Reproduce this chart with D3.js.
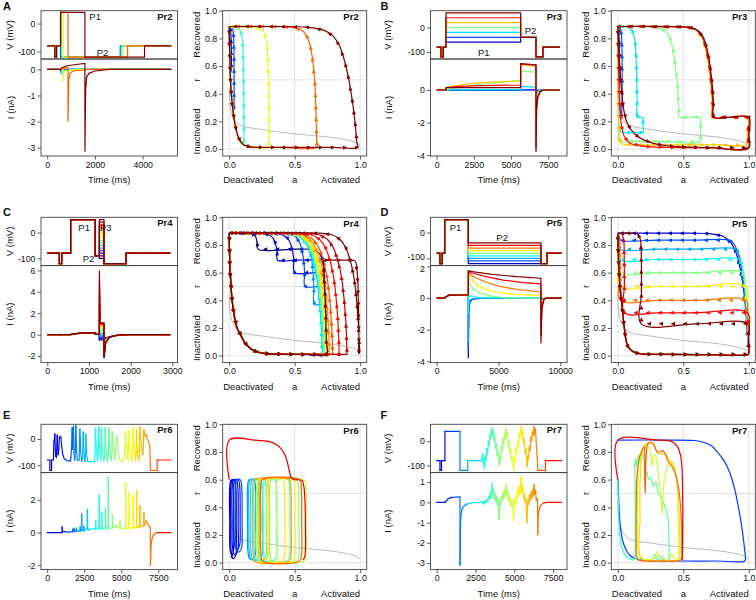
<!DOCTYPE html>
<html><head><meta charset="utf-8">
<script src="https://cdn.jsdelivr.net/npm/d3@7"></script>
<style>body{margin:0;background:#fff}</style></head>
<body><svg id="c" width="756" height="600"></svg>
<script>
// ================= DATA =================
// ---- Panel A (Pr2) ----
const A_tTicks=[0,2000,4000], A_vTicks=[0,-100], A_iTicks=[0,-1,-2,-3];
const A_p1Dur=[5,15,40,110,310,1020];
const A_color=[0.05,0.2,0.42,0.6,0.78,1.0];
const A_iTraces=[
 [[0,0],[560,0],[565,0.01],[566,-0.05],[620,-0.01],[900,0],[5200,0]],
 [[0,0],[560,0],[575,0.01],[576,-0.1],[640,-0.02],[1000,0],[5200,0]],
 [[0,0],[560,0],[600,0.02],[601,-0.2],[660,-0.04],[1100,0],[5200,0]],
 [[0,0],[560,0],[580,0.02],[670,0.04],[671,-0.45],[700,-0.12],[800,-0.05],[1300,0],[5200,0]],
 [[0,0],[560,0],[580,0.03],[700,0.05],[870,0.07],[871,-2.0],[900,-0.45],[950,-0.15],[1100,-0.06],[1800,0],[5200,0]],
 [[0,0],[560,0],[600,0.05],[700,0.1],[900,0.15],[1200,0.19],[1580,0.23],[1581,-3.15],[1610,-0.8],[1650,-0.3],[1750,-0.15],[2000,-0.06],[2600,0],[5200,0]]
];
const A_phase=[
 [[0,0.885],[0.002,0.75],[0.006,0.62],[0.012,0.55],[0.016,0.6],[0.015,0.75],[0.011,0.85],[0.005,0.883],[0,0.885]],
 [[0,0.885],[0.002,0.75],[0.006,0.6],[0.012,0.45],[0.022,0.33],[0.032,0.27],[0.036,0.3],[0.037,0.5],[0.036,0.7],[0.033,0.82],[0.025,0.872],[0.01,0.884],[0,0.885]],
 [[0,0.885],[0.002,0.75],[0.006,0.6],[0.012,0.45],[0.022,0.33],[0.035,0.23],[0.055,0.13],[0.08,0.065],[0.1,0.035],[0.11,0.025],[0.112,0.06],[0.111,0.3],[0.108,0.6],[0.1,0.79],[0.085,0.855],[0.05,0.88],[0,0.885]],
 [[0,0.885],[0.002,0.75],[0.006,0.6],[0.012,0.45],[0.022,0.33],[0.035,0.23],[0.055,0.13],[0.08,0.065],[0.11,0.032],[0.15,0.018],[0.2,0.013],[0.3,0.012],[0.305,0.05],[0.303,0.3],[0.298,0.55],[0.29,0.72],[0.275,0.82],[0.25,0.865],[0.2,0.88],[0.1,0.885],[0,0.885]],
 [[0,0.885],[0.002,0.75],[0.006,0.6],[0.012,0.45],[0.022,0.33],[0.035,0.23],[0.055,0.13],[0.08,0.065],[0.11,0.032],[0.15,0.018],[0.2,0.013],[0.4,0.012],[0.67,0.012],[0.668,0.05],[0.663,0.25],[0.655,0.45],[0.64,0.62],[0.62,0.74],[0.59,0.82],[0.55,0.86],[0.48,0.88],[0.3,0.885],[0,0.885]],
 [[0,0.886],[0.002,0.75],[0.006,0.6],[0.012,0.45],[0.022,0.33],[0.035,0.23],[0.055,0.13],[0.08,0.065],[0.11,0.032],[0.15,0.018],[0.2,0.013],[0.5,0.012],[0.8,0.012],[0.98,0.012],[0.975,0.05],[0.96,0.2],[0.94,0.35],[0.91,0.52],[0.88,0.64],[0.84,0.75],[0.79,0.82],[0.72,0.86],[0.6,0.88],[0.3,0.886],[0,0.886]]
];
// ---- Panel B (Pr3) ----
const B_tTicks=[0,2500,5000,7500], B_vTicks=[0,-100], B_iTicks=[0,-2,-4];
const B_p1Level=[-60,-40,-20,0,20,40,60];
const B_color=[0.08,0.2,0.35,0.5,0.68,0.86,1.0];
const B_iTraces=[
 [[0,0],[620,0],[700,-0.02],[5650,-0.03],[5651,0],[6680,0],[6681,-0.1],[6800,-0.02],[7100,0],[8300,0]],
 [[0,0],[620,0],[5650,-0.02],[5651,0.02],[6680,0.02],[6681,-0.2],[6800,-0.04],[7150,0],[8300,0]],
 [[0,0],[620,0],[1500,0.01],[5650,0.02],[5651,0.2],[6000,0.2],[6680,0.18],[6681,-0.5],[6750,-0.15],[6900,-0.05],[7150,0],[8300,0]],
 [[0,0],[620,0],[800,0.05],[1500,0.15],[3000,0.35],[5650,0.6],[5651,1.15],[6680,1.1],[6681,-2.5],[6720,-0.8],[6800,-0.3],[6950,-0.08],[7150,0],[8300,0]],
 [[0,0],[620,0],[660,0.15],[1500,0.3],[3000,0.45],[5650,0.55],[5651,1.55],[6680,1.45],[6681,-3.4],[6720,-1.0],[6800,-0.4],[6950,-0.1],[7150,0],[8300,0]],
 [[0,0],[620,0],[640,0.15],[1500,0.22],[3000,0.27],[5650,0.3],[5651,1.6],[6680,1.5],[6681,-3.6],[6720,-1.1],[6800,-0.42],[6950,-0.11],[7150,0],[8300,0]],
 [[0,0],[620,0],[640,0.14],[5650,0.15],[5651,1.62],[6680,1.55],[6681,-3.8],[6720,-1.2],[6800,-0.45],[6950,-0.12],[7150,0],[8300,0]]
];
const B_phase=[
 [[0,0.885],[0.002,0.75],[0.005,0.62],[0.008,0.52],[0.01,0.46],[0.011,0.55],[0.011,0.7],[0.009,0.82],[0.005,0.875],[0,0.885]],
 [[0,0.885],[0.003,0.7],[0.008,0.48],[0.014,0.34],[0.022,0.26],[0.028,0.235],[0.031,0.3],[0.033,0.5],[0.032,0.7],[0.028,0.82],[0.02,0.87],[0,0.885]],
 [[0,0.885],[0.002,0.6],[0.005,0.3],[0.01,0.17],[0.02,0.127],[0.05,0.12],[0.12,0.12],[0.19,0.12],[0.192,0.18],[0.19,0.23],[0.15,0.23],[0.147,0.35],[0.144,0.5],[0.14,0.65],[0.135,0.74],[0.125,0.81],[0.11,0.855],[0.08,0.878],[0.04,0.885],[0,0.886]],
 [[0,0.885],[0.002,0.6],[0.004,0.3],[0.008,0.13],[0.015,0.075],[0.03,0.057],[0.15,0.055],[0.35,0.055],[0.63,0.055],[0.632,0.12],[0.632,0.2],[0.63,0.23],[0.55,0.23],[0.47,0.23],[0.465,0.3],[0.46,0.4],[0.452,0.5],[0.44,0.6],[0.425,0.7],[0.405,0.78],[0.38,0.835],[0.34,0.868],[0.28,0.882],[0.15,0.886],[0,0.886]],
 [[0,0.885],[0.002,0.6],[0.004,0.3],[0.007,0.13],[0.015,0.055],[0.04,0.036],[0.2,0.03],[0.5,0.03],[0.8,0.03],[0.985,0.03],[0.99,0.1],[0.99,0.23],[0.85,0.23],[0.722,0.23],[0.72,0.32],[0.715,0.42],[0.705,0.52],[0.692,0.62],[0.672,0.72],[0.647,0.8],[0.612,0.85],[0.56,0.875],[0.45,0.884],[0,0.886]],
 [[0,0.885],[0.003,0.7],[0.008,0.5],[0.015,0.32],[0.03,0.16],[0.055,0.08],[0.1,0.04],[0.2,0.02],[0.4,0.012],[0.7,0.01],[0.995,0.01],[0.997,0.1],[0.995,0.23],[0.85,0.23],[0.728,0.23],[0.726,0.32],[0.72,0.42],[0.71,0.52],[0.697,0.62],[0.677,0.72],[0.652,0.8],[0.617,0.85],[0.56,0.876],[0.45,0.884],[0,0.886]],
 [[0,0.885],[0.004,0.8],[0.012,0.65],[0.022,0.5],[0.033,0.38],[0.046,0.28],[0.07,0.19],[0.1,0.14],[0.14,0.1],[0.2,0.065],[0.28,0.04],[0.38,0.024],[0.5,0.016],[0.71,0.01],[1.0,0.008],[1.002,0.1],[1.0,0.23],[0.85,0.23],[0.732,0.23],[0.73,0.32],[0.725,0.42],[0.715,0.52],[0.702,0.62],[0.682,0.72],[0.656,0.8],[0.62,0.85],[0.565,0.876],[0.45,0.884],[0,0.886]]
];
// ---- Panel C (Pr4) ----
const C_tTicks=[0,1000,2000,3000], C_vTicks=[0,-100], C_iTicks=[-2,0,2,4,6];
const C_p3Level=[-100,-90,-80,-70,-60,-50,-40,-30,-20,-10,0,10,20,30,40,50];
const C_iP3Peak=[-0.5,-0.45,-0.4,-0.3,-0.2,0.2,0.6,1.0,1.5,2.0,2.6,3.2,3.8,4.5,5.2,6.0];
const C_iP3End=[-0.5,-0.4,-0.3,-0.15,-0.05,0.1,0.25,0.4,0.55,0.7,0.8,0.9,0.95,1.0,1.05,1.1];
const C_iTailPeak=[-0.6,-0.7,-0.8,-0.9,-1.0,-1.1,-1.3,-1.5,-1.6,-1.7,-1.8,-1.9,-2.0,-2.1,-2.15,-2.2];
const C_iTail2=[-0.3,-0.35,-0.4,-0.42,-0.45,-0.48,-0.5,-0.55,-0.6,-0.62,-0.65,-0.68,-0.7,-0.72,-0.74,-0.76];
const C_inact=[[0,0.885],[0.002,0.75],[0.005,0.62],[0.01,0.56],[0.02,0.42],[0.036,0.3],[0.06,0.2],[0.087,0.15],[0.13,0.08],[0.19,0.035],[0.28,0.015],[0.45,0.01],[0.6,0.009],[0.745,0.009]];
const C_blueTail=[
 [[0.742,0.1],[0.738,0.25],[0.733,0.4],[0.728,0.52],[0.722,0.62],[0.712,0.7],[0.68,0.745],[0.62,0.768],[0.5,0.77],[0.22,0.77],[0.212,0.82],[0.2,0.862],[0.17,0.88],[0.1,0.885],[0,0.886]],
 [[0.742,0.1],[0.738,0.25],[0.733,0.4],[0.728,0.52],[0.722,0.62],[0.712,0.68],[0.69,0.69],[0.5,0.69],[0.37,0.69],[0.364,0.76],[0.35,0.82],[0.325,0.86],[0.28,0.88],[0.15,0.885],[0,0.886]],
 [[0.742,0.1],[0.738,0.25],[0.733,0.4],[0.726,0.52],[0.712,0.585],[0.69,0.6],[0.5,0.6],[0.493,0.7],[0.475,0.79],[0.445,0.85],[0.39,0.878],[0.3,0.885],[0,0.886]],
 [[0.742,0.1],[0.738,0.25],[0.732,0.4],[0.72,0.48],[0.7,0.5],[0.58,0.5],[0.576,0.6],[0.565,0.71],[0.545,0.8],[0.51,0.858],[0.45,0.88],[0.35,0.886],[0,0.886]],
 [[0.742,0.1],[0.738,0.25],[0.728,0.35],[0.71,0.37],[0.65,0.37],[0.647,0.48],[0.64,0.6],[0.628,0.71],[0.605,0.8],[0.565,0.856],[0.5,0.88],[0.4,0.886],[0,0.886]]
];
const C_fanBottom=[0.71,0.72,0.725,0.73,0.74,0.75,0.765,0.79,0.84,0.9];
const C_fanShape=[[0,0.009],[-0.003,0.1],[-0.01,0.25],[-0.022,0.4],[-0.04,0.55],[-0.068,0.68],[-0.105,0.78],[-0.155,0.845],[-0.22,0.876],[-0.31,0.885]];
const C_darkTail=[[0.742,0.1],[0.738,0.25],[0.733,0.4],[0.728,0.52],[0.722,0.62],[0.725,0.69],[0.8,0.69],[0.9,0.69],[0.96,0.685],[0.978,0.6],[0.986,0.4],[0.99,0.15],[0.99,0.02],[0.995,0.02],[0.992,0.1],[0.985,0.25],[0.973,0.4],[0.955,0.55],[0.927,0.68],[0.89,0.78],[0.84,0.845],[0.775,0.876],[0.685,0.885],[0,0.886]];
// ---- Panel D (Pr5) ----
const D_tTicks=[0,5000,10000], D_vTicks=[0,-100], D_iTicks=[-4,-2,0,2];
const D_p2Level=[-120,-110,-100,-90,-80,-70,-60,-50,-40];
const D_color=[0.08,0.2,0.29,0.38,0.5,0.64,0.76,0.88,1.0];
const D_iP2=[
 [[2561,-3.8],[2600,-0.8],[2700,-0.2],[3000,-0.05],[4000,0],[8440,0]],
 [[2561,-3.3],[2600,-0.6],[2700,-0.15],[3000,-0.03],[4000,0],[8440,0]],
 [[2561,-2.8],[2600,-0.4],[2700,-0.1],[3200,0],[8440,0]],
 [[2561,-1.0],[2600,0.1],[2700,0.15],[3500,0.02],[8440,0]],
 [[2561,1.1],[2700,0.85],[3000,0.55],[3500,0.3],[4500,0.1],[5500,0.02],[8440,0]],
 [[2561,1.55],[2800,1.2],[3300,0.8],[4000,0.55],[5000,0.35],[6500,0.22],[8440,0.17]],
 [[2561,1.6],[3000,1.35],[4000,1.0],[5000,0.75],[6500,0.55],[8440,0.38]],
 [[2561,1.65],[3000,1.55],[4000,1.35],[5500,1.12],[7000,0.98],[8440,0.9]],
 [[2561,1.72],[3000,1.65],[4500,1.5],[6500,1.35],[8440,1.25]]
];
const D_iTailPeak=[-0.1,-0.15,-0.25,-0.5,-0.8,-1.2,-1.7,-2.4,-2.85];
const D_iTail2=[-0.02,-0.03,-0.06,-0.12,-0.2,-0.3,-0.42,-0.55,-0.65];
const D_inact=[[0,0.885],[0.003,0.75],[0.007,0.65],[0.01,0.59],[0.018,0.48],[0.027,0.4],[0.035,0.33],[0.045,0.24],[0.059,0.13],[0.075,0.07],[0.097,0.043],[0.14,0.02],[0.22,0.011],[0.4,0.009],[0.7,0.008],[0.995,0.008]];
const D_levelPaths=[
 [[1.0,0.02],[0.99,0.15],[0.975,0.35],[0.955,0.52],[0.93,0.65],[0.9,0.75],[0.86,0.82],[0.8,0.865],[0.7,0.882],[0.55,0.885],[0.3,0.885],[0,0.885]],
 [[1.0,0.02],[0.992,0.15],[0.978,0.35],[0.96,0.52],[0.94,0.65],[0.915,0.75],[0.885,0.81],[0.85,0.835],[0.6,0.835],[0.3,0.835],[0.02,0.835],[0.01,0.86],[0,0.885]],
 [[1.0,0.02],[0.993,0.15],[0.98,0.35],[0.965,0.52],[0.945,0.65],[0.925,0.73],[0.9,0.77],[0.6,0.77],[0.3,0.77],[0.015,0.77],[0.008,0.83],[0,0.885]],
 [[1.0,0.02],[0.994,0.15],[0.982,0.35],[0.968,0.52],[0.952,0.63],[0.93,0.695],[0.6,0.695],[0.3,0.695],[0.015,0.695],[0.01,0.8],[0,0.885]],
 [[1.0,0.02],[0.995,0.15],[0.985,0.35],[0.972,0.52],[0.955,0.6],[0.6,0.6],[0.3,0.6],[0.015,0.6],[0.01,0.75],[0,0.885]],
 [[1.0,0.02],[0.996,0.15],[0.988,0.35],[0.975,0.5],[0.6,0.5],[0.3,0.5],[0.015,0.5],[0.012,0.7],[0.005,0.85],[0,0.885]],
 [[1.0,0.02],[0.997,0.15],[0.99,0.3],[0.98,0.4],[0.6,0.4],[0.3,0.4],[0.02,0.4],[0.018,0.6],[0.012,0.8],[0,0.885]],
 [[1.0,0.02],[0.998,0.15],[0.99,0.31],[0.6,0.31],[0.3,0.31],[0.05,0.31],[0.05,0.5],[0.049,0.7],[0.045,0.83],[0.03,0.88],[0,0.885]],
 [[1.0,0.02],[0.998,0.12],[0.993,0.23],[0.6,0.23],[0.18,0.23],[0.18,0.45],[0.179,0.7],[0.172,0.84],[0.15,0.882],[0.1,0.885],[0,0.885]]
];
// ---- Panel E (Pr6) ----
const E_tTicks=[0,2500,5000,7500], E_vTicks=[0,-100], E_iTicks=[-2,0,2];
const E_vPts=[[0,-80],[180,-80],[182,-120],[292,-120],[294,-80],[420,-80],
 [450,-10],[480,-5],[518,20],[545,-40],[580,-65],[620,-70],[660,-20],[675,15],[700,-30],[740,-60],[780,-40],[820,5],[870,10],[922,8],[980,-30],[1060,-62],[1150,-75],[1300,-82],[1560,-84],
 [1600,-70],[1650,-30],[1687,43],[1720,-40],[1750,-20],[1777,49],[1810,-50],[1860,-80],[1900,-40],[1935,52],[1980,-40],[2040,-82],[2160,-80],[2205,39],[2260,-50],[2330,-85],[2400,-70],[2430,27],[2480,-50],[2550,-85],[2590,-60],[2610,20],[2660,-60],[2740,-86],[3180,-86],
 [3230,-60],[3263,43],[3320,-40],[3400,-84],[3450,-60],[3488,46],[3540,-40],[3610,-82],[3640,-60],[3668,43],[3720,-40],[3820,-85],[3880,-60],[3915,43],[3970,-40],[4080,-84],[4130,-60],[4163,43],[4220,-40],[4320,-82],[4360,-60],[4388,30],[4450,-30],[4560,-80],[4620,-40],[4680,10],[4720,5],[4800,-50],[4900,-80],[5100,-86],
 [5230,-70],[5288,30],[5340,-20],[5450,-82],[5480,-60],[5513,32],[5570,-30],[5720,-84],[5760,-60],[5805,43],[5860,-30],[5980,-82],[6000,-60],[6030,36],[6090,-40],[6180,-82],
 [6220,-60],[6255,47],[6300,10],[6380,-40],[6460,-60],[6500,-20],[6525,36],[6580,15],[6650,10],[6700,17],[6760,0],[6850,-10],[6930,-30],[6950,-75],[6975,-120],
 [7425,-120],[7427,-80],[8380,-80]];
const E_iPts=[[0,0],[1000,0],[1010,0.35],[1030,0.05],[1200,0.05],[1500,0.02],[1700,0.05],[1720,0.2],[1740,0.05],[1790,0.1],[1810,0.25],[1830,0.05],[1950,0.1],[1980,0.27],[2000,0.08],[2200,0.1],[2225,0.35],[2250,0.1],[2318,0.15],[2330,1.14],[2350,0.15],[2450,0.1],[2480,0.4],[2500,0.15],[2700,0.2],[2712,1.41],[2730,0.25],[2800,0.15],[2900,0.2],[3050,0.25],[3263,0.2],[3275,0.73],[3290,0.25],[3400,0.2],[3500,0.3],[3510,2.3],[3530,0.3],[3600,0.2],[3680,0.3],[3690,1.24],[3710,0.3],[3800,0.2],[3920,0.3],[3930,1.5],[3950,0.3],[4050,0.2],[4110,0.3],[4120,3.39],[4140,0.3],[4250,0.25],[4390,0.3],[4400,1.1],[4420,0.3],[4550,0.35],[4700,0.45],[4800,0.3],[4905,0.3],[4915,0.7],[4930,0.3],[5100,0.2],[5290,0.3],[5300,3.08],[5320,0.3],[5450,0.25],[5510,0.3],[5520,2.47],[5540,0.3],[5700,0.25],[5800,0.3],[5810,2.27],[5830,0.3],[5950,0.3],[6030,0.35],[6040,2.57],[6060,0.35],[6150,0.3],[6250,0.35],[6260,1.65],[6280,0.35],[6400,0.4],[6520,0.4],[6530,1.2],[6550,0.45],[6650,0.6],[6710,0.75],[6780,0.5],[6900,0.4],[6960,0.3],[6975,-2.0],[7000,-1.0],[7050,-0.5],[7150,-0.2],[7300,-0.05],[7450,0],[8380,0]];
const E_loopL=[0.004,0.012,0.022,0.035,0.048,0.14,0.15,0.165,0.19,0.22,0.26,0.31,0.36,0.29,0.21,0.23,0.18,0.24];
const E_loopR=[0.03,0.05,0.065,0.08,0.095,0.2,0.225,0.25,0.28,0.36,0.46,0.53,0.585,0.5,0.42,0.3,0.47,0.55];
const E_loopBot=[0.04,0.03,0.06,0.1,0.08,0.03,0.025,0.02,0.02,0.02,0.015,0.012,0.01,0.012,0.012,0.03,0.01,0.01];
const E_loopCol=[0.05,0.09,0.13,0.16,0.2,0.27,0.31,0.34,0.38,0.42,0.47,0.52,0.56,0.6,0.64,0.68,0.72,0.78];
const E_red=[[0.565,0.02],[0.578,0.05],[0.582,0.25],[0.578,0.45],[0.57,0.55],[0.555,0.595],[0.5,0.6],[0.475,0.61],[0.46,0.66],[0.44,0.74],[0.42,0.79],[0.39,0.83],[0.35,0.86],[0.3,0.877],[0.2,0.885],[0,0.886],[0,0.6]];
// ---- Panel F (Pr7) ----
const F_tTicks=[0,2500,5000,7500], F_vTicks=[0,-100], F_iTicks=[-3,-2,-1,0,1];
const F_vPts=[[0,-80],[210,-80],[210,-120],[310,-120],[310,-80],[530,-80],[530,40],[1500,40],[1500,-120],[2000,-120],[2000,-80],[2900,-80],
 [2960,-50],[3000,-95],[3050,-70],[3080,-112],[3130,-60],[3180,-80],[3230,-30],[3280,-55],[3330,0],[3380,-20],[3430,30],[3480,10],[3553,57],[3600,20],[3650,45],[3700,0],[3750,20],[3800,-30],[3850,-10],[3900,-60],[3950,-40],[4028,-100],[4080,-60],[4130,-75],[4180,-20],[4230,-40],[4280,10],[4330,-10],[4380,30],[4420,15],[4460,53],[4510,20],[4560,35],[4610,-20],[4660,0],[4710,-50],[4760,-30],[4820,-80],[4880,-60],[4957,-119],[5010,-70],[5060,-85],[5110,-30],[5160,-50],[5210,0],[5260,-20],[5310,30],[5360,10],[5410,40],[5454,61],[5500,25],[5550,40],[5600,-10],[5650,10],[5700,-50],[5750,-30],[5821,-105],[5870,-60],[5920,-75],[5970,-20],[6020,-40],[6070,20],[6120,0],[6170,40],[6220,20],[6275,61],[6320,30],[6370,50],[6420,-10],[6470,-60],[6500,-80],
 [6510,-120],[7010,-120],[7010,-80],[8050,-80]];
const F_iPts=[[0,0],[530,0],[600,0.05],[700,0.15],[850,0.22],[1000,0.25],[1500,0.27],[1503,-3.1],[1530,-1.2],[1570,-0.55],[1650,-0.3],[1800,-0.15],[2000,-0.07],[2300,-0.02],[2900,0],
 [2950,0.02],[3000,-0.05],[3050,0.05],[3080,-0.1],[3130,0.1],[3200,0.0],[3250,0.15],[3300,0.05],[3350,0.3],[3400,0.15],[3450,0.5],[3500,0.2],[3553,0.95],[3600,0.4],[3650,0.7],[3700,0.2],[3750,0.45],[3800,0.1],[3850,0.3],[3900,-0.1],[3950,0.2],[4028,-0.85],[4080,0.1],[4130,-0.1],[4180,0.3],[4230,0.1],[4280,0.5],[4330,0.2],[4380,0.6],[4420,0.3],[4460,0.88],[4510,0.4],[4560,0.6],[4610,0.1],[4660,0.35],[4710,-0.1],[4760,0.2],[4820,-0.2],[4880,0.1],[4957,-0.9],[5010,0.1],[5060,-0.1],[5110,0.35],[5160,0.1],[5210,0.6],[5260,0.3],[5310,0.8],[5360,0.4],[5410,0.9],[5454,1.25],[5500,0.5],[5550,0.75],[5600,0.2],[5650,0.45],[5700,0.0],[5750,0.2],[5821,-1.0],[5870,0.1],[5920,-0.1],[5970,0.35],[6020,0.1],[6070,0.5],[6120,0.2],[6170,0.6],[6220,0.3],[6275,0.9],[6320,0.4],[6370,0.6],[6420,0.1],[6470,0.2],[6500,0.05],[6512,-1.6],[6540,-0.7],[6600,-0.35],[6700,-0.15],[6850,-0.05],[7000,-0.01],[7100,0],[8050,0]];
const F_phase=[
 {c:0.18,p:[[0.002,0.6],[0.005,0.5],[0.009,0.4],[0.013,0.33],[0.022,0.24],[0.033,0.174],[0.05,0.12],[0.072,0.077],[0.095,0.05],[0.123,0.034],[0.16,0.022],[0.2,0.017],[0.3,0.013],[0.5,0.012],[0.75,0.012],[0.97,0.012],[0.975,0.03],[0.968,0.1],[0.955,0.2],[0.94,0.3],[0.915,0.43],[0.89,0.54],[0.855,0.65],[0.815,0.73],[0.76,0.8],[0.71,0.848],[0.64,0.874],[0.58,0.883],[0.4,0.886],[0,0.886]]},
 {c:0.42,p:[[0,0.62],[0.002,0.5],[0.005,0.4],[0.008,0.3],[0.015,0.2],[0.027,0.12],[0.045,0.07],[0.07,0.04],[0.1,0.025],[0.12,0.02],[0.13,0.03]]},
 {c:0.47,p:[[0.13,0.03],[0.132,0.1],[0.133,0.3],[0.132,0.55],[0.13,0.72],[0.135,0.75],[0.142,0.7],[0.15,0.74],[0.16,0.78],[0.17,0.73],[0.18,0.77],[0.19,0.8],[0.2,0.74],[0.21,0.62],[0.22,0.66],[0.235,0.6],[0.25,0.62],[0.27,0.55],[0.29,0.58],[0.31,0.5],[0.33,0.48],[0.35,0.43],[0.37,0.38],[0.385,0.3],[0.39,0.15],[0.392,0.05],[0.385,0.02],[0.36,0.02],[0.33,0.05],[0.31,0.02],[0.28,0.06],[0.26,0.02],[0.22,0.02],[0.18,0.03],[0.15,0.02],[0.13,0.03]]},
 {c:0.58,p:[[0.15,0.1],[0.15,0.4],[0.155,0.65],[0.165,0.76],[0.18,0.8],[0.2,0.84],[0.215,0.86],[0.23,0.85],[0.25,0.8],[0.26,0.7],[0.27,0.74],[0.28,0.78],[0.3,0.74],[0.31,0.62],[0.32,0.55],[0.33,0.45],[0.34,0.35],[0.345,0.5],[0.36,0.62],[0.38,0.7],[0.4,0.73],[0.42,0.72],[0.44,0.65],[0.455,0.55],[0.46,0.35],[0.465,0.1],[0.46,0.03],[0.44,0.02],[0.41,0.07],[0.39,0.02],[0.33,0.03],[0.3,0.08],[0.28,0.03],[0.22,0.02],[0.17,0.04],[0.15,0.1]]},
 {c:0.66,p:[[0.17,0.3],[0.17,0.6],[0.18,0.75],[0.2,0.83],[0.22,0.86],[0.25,0.865],[0.28,0.85],[0.3,0.8],[0.32,0.78],[0.35,0.79],[0.38,0.76],[0.41,0.72],[0.44,0.65],[0.46,0.5],[0.47,0.3],[0.475,0.08],[0.47,0.025],[0.45,0.015],[0.3,0.015],[0.2,0.02],[0.17,0.05],[0.17,0.3]]},
 {c:0.78,p:[[0.14,0.05],[0.14,0.3],[0.145,0.6],[0.16,0.74],[0.18,0.8],[0.2,0.84],[0.205,0.6],[0.21,0.5],[0.215,0.75],[0.23,0.86],[0.26,0.87],[0.28,0.84],[0.3,0.8],[0.32,0.8],[0.34,0.81],[0.36,0.79],[0.38,0.74],[0.41,0.7],[0.44,0.64],[0.46,0.56],[0.475,0.45],[0.485,0.3],[0.49,0.1],[0.49,0.03],[0.47,0.015],[0.3,0.012],[0.2,0.012],[0.16,0.02],[0.14,0.05]]},
 {c:0.9,p:[[0.49,0.02],[0.495,0.2],[0.495,0.5],[0.49,0.68],[0.48,0.77],[0.46,0.83],[0.43,0.865],[0.39,0.882],[0.3,0.886],[0,0.886],[0,0.6]]}
];
// ---- shared steady-state curve ----
const SS_curve=[[0,0.44],[0.005,0.33],[0.015,0.27],[0.03,0.23],[0.06,0.19],[0.1,0.166],[0.17,0.152],[0.25,0.142],[0.35,0.128],[0.5,0.11],[0.65,0.097],[0.8,0.082],[0.9,0.065],[0.95,0.053],[0.98,0.04],[1.0,0.025]];

// ================= DRAWING =================
const FONT='"Liberation Sans", Arial, Helvetica, sans-serif';
const svg=d3.select('#c');
const LW=136.5, VH=48.3, IH=97, RW=144, RH=145.3;
const colX=[41,430.5], colXR=[222.7,611.3], rowY=[10.7,217.3,424.3];
function jet(v){const c=x=>Math.max(0,Math.min(1,x));return d3.rgb(255*c(1.5-Math.abs(4*v-3)),255*c(1.5-Math.abs(4*v-2)),255*c(1.5-Math.abs(4*v-1))).toString();}
let cid=0;
function clip(x,y,w,h){const id='cl'+(cid++);svg.append('clipPath').attr('id',id).append('rect').attr('x',x).attr('y',y).attr('width',w).attr('height',h);return 'url(#'+id+')';}
function stepPts(segs,tEnd){const p=[];segs.forEach((s,i)=>{const t1=i<segs.length-1?segs[i+1][0]:tEnd;p.push([s[0],s[1]],[t1,s[1]]);});return p;}
const fmtInt=d=>String(d);
function styleAxis(g){g.attr('font-family',FONT).attr('font-size',8.8);g.select('.domain').remove();g.selectAll('line').attr('stroke','#333').attr('stroke-width',0.8);g.selectAll('text').attr('fill','#111');}
function txt(x,y,s,o={}){const t=svg.append('text').attr('x',x).attr('y',y).text(s).attr('font-family',FONT).attr('font-size',o.size||9.5).attr('fill','#111').attr('text-anchor',o.anchor||'start');if(o.bold)t.attr('font-weight','bold');if(o.rot!=null)t.attr('transform',`rotate(${o.rot},${x},${y})`);return t;}

function leftPanel(cfg){
 const x0=cfg.x0,y0=cfg.y0;
 const x=d3.scaleLinear().domain(cfg.tDom).range([x0,x0+LW]);
 const yV=d3.scaleLinear().domain(cfg.vDom).range([y0+VH,y0]);
 const yI=d3.scaleLinear().domain(cfg.iDom).range([y0+VH+IH,y0+VH]);
 const gV=svg.append('g').attr('clip-path',clip(x0,y0,LW,VH));
 const gI=svg.append('g').attr('clip-path',clip(x0,y0+VH,LW,IH));
 const lV=d3.line().x(d=>x(d[0])).y(d=>yV(d[1])), lI=d3.line().x(d=>x(d[0])).y(d=>yI(d[1]));
 if(cfg.timeColor){
  const seg=(g,pts,y)=>{for(let i=0;i<pts.length-1;i++){g.append('line').attr('x1',x(pts[i][0])).attr('y1',y(pts[i][1])).attr('x2',x(pts[i+1][0])).attr('y2',y(pts[i+1][1])).attr('stroke',cfg.timeColor((pts[i][0]+pts[i+1][0])/2)).attr('stroke-width',1.2).attr('stroke-linecap','round');}};
  seg(gV,cfg.vPts,yV);seg(gI,cfg.iPts,yI);
 } else {
  cfg.vTraces.forEach(t=>gV.append('path').attr('d',lV(t.pts)).attr('fill','none').attr('stroke',t.c).attr('stroke-width',1.2));
  cfg.iTraces.forEach(t=>gI.append('path').attr('d',lI(t.pts)).attr('fill','none').attr('stroke',t.c).attr('stroke-width',1.2));
 }
 svg.append('rect').attr('x',x0).attr('y',y0).attr('width',LW).attr('height',VH).attr('fill','none').attr('stroke','#444').attr('stroke-width',0.9);
 svg.append('rect').attr('x',x0).attr('y',y0+VH).attr('width',LW).attr('height',IH).attr('fill','none').attr('stroke','#444').attr('stroke-width',0.9);
 const ax1=svg.append('g').attr('transform',`translate(${x0},0)`).call(d3.axisLeft(yV).tickValues(cfg.vTicks).tickSize(3.5).tickPadding(2).tickFormat(fmtInt)).call(styleAxis);
 const ax2=svg.append('g').attr('transform',`translate(${x0},0)`).call(d3.axisLeft(yI).tickValues(cfg.iTicks).tickSize(3.5).tickPadding(2).tickFormat(fmtInt)).call(styleAxis);
 if(cfg.nudge){
  ax1.selectAll('.tick').filter(d=>d===d3.min(cfg.vTicks)).select('text').attr('dy','0.1em');
  ax2.selectAll('.tick').filter(d=>d===d3.max(cfg.iTicks)).select('text').attr('dy','0.6em');
 }
 svg.append('g').attr('transform',`translate(0,${y0+VH+IH})`).call(d3.axisBottom(x).tickValues(cfg.tTicks).tickSize(3.5).tickPadding(2).tickFormat(fmtInt)).call(styleAxis);
 txt(x0+LW/2,y0+VH+IH+27,'Time (ms)',{anchor:'middle'});
 txt(x0-cfg.ylabOff,y0+VH/2,'V (mV)',{anchor:'middle',rot:-90});
 txt(x0-cfg.ylabOff,y0+VH+IH/2,'I (nA)',{anchor:'middle',rot:-90});
 txt(x0+LW-5,y0+9,cfg.name,{anchor:'end',bold:true});
 (cfg.pLabels||[]).forEach(p=>txt(x0+p[1],y0+p[2],p[0]));
}

function arrows(g,pts,xs,ys,color,spacing){
 const P=pts.map(d=>[xs(d[0]),ys(d[1])]);const acc=[0];
 for(let i=1;i<P.length;i++)acc.push(acc[i-1]+Math.hypot(P[i][0]-P[i-1][0],P[i][1]-P[i-1][1]));
 const tot=acc[acc.length-1];let j=0;
 for(let s=spacing*0.5;s<tot;s+=spacing){
  while(j<P.length-2&&acc[j+1]<s)j++;
  const L=acc[j+1]-acc[j];if(L<=0)continue;const f=(s-acc[j])/L;
  const px=P[j][0]+f*(P[j+1][0]-P[j][0]),py=P[j][1]+f*(P[j+1][1]-P[j][1]);
  const ang=Math.atan2(P[j+1][1]-P[j][1],P[j+1][0]-P[j][0])*180/Math.PI;
  g.append('path').attr('d','M2.6,0L-1.7,-2L-1.7,2Z').attr('transform',`translate(${px},${py}) rotate(${ang})`).attr('fill',color);
 }
}

function rightPanel(cfg){
 const x0=cfg.x0,y0=cfg.y0;
 const x=d3.scaleLinear().domain([-0.05,1.05]).range([x0,x0+RW]);
 const y=d3.scaleLinear().domain([-0.05,1.0]).range([y0+RH,y0]);
 const g=svg.append('g').attr('clip-path',clip(x0,y0,RW,RH));
 [0,0.5,1].forEach(v=>{g.append('line').attr('x1',x(v)).attr('x2',x(v)).attr('y1',y0).attr('y2',y0+RH).attr('stroke','#d4d4d4').attr('stroke-width',0.7);
  g.append('line').attr('y1',y(v)).attr('y2',y(v)).attr('x1',x0).attr('x2',x0+RW).attr('stroke','#d4d4d4').attr('stroke-width',0.7);});
 const ln=d3.line().x(d=>x(d[0])).y(d=>y(d[1])).curve(d3.curveCatmullRom.alpha(0.5));
 const lnC=d3.line().x(d=>x(d[0])).y(d=>y(d[1])).curve(d3.curveCatmullRomClosed.alpha(0.5));
 g.append('path').attr('d',ln(SS_curve)).attr('fill','none').attr('stroke','#8a8a8a').attr('stroke-width',0.6);
 cfg.paths.forEach(p=>{
  g.append('path').attr('d',(p.closed?lnC:ln)(p.pts)).attr('fill','none').attr('stroke',p.c).attr('stroke-width',1.2).attr('stroke-linejoin','round');
  if(cfg.arrows)arrows(g,p.pts,x,y,p.c,12);
 });
 svg.append('rect').attr('x',x0).attr('y',y0).attr('width',RW).attr('height',RH).attr('fill','none').attr('stroke','#444').attr('stroke-width',0.9);
 svg.append('g').attr('transform',`translate(${x0},0)`).call(d3.axisLeft(y).tickValues([0,0.2,0.4,0.6,0.8,1.0]).tickSize(3.5).tickPadding(2).tickFormat(d=>d.toFixed(1))).call(styleAxis);
 svg.append('g').attr('transform',`translate(0,${y0+RH})`).call(d3.axisBottom(x).tickValues([0,0.5,1.0]).tickSize(3.5).tickPadding(2).tickFormat(d=>d.toFixed(1))).call(styleAxis);
 txt(x0+0.5,y0+RH+27,'Deactivated');
 txt(x(0.5),y0+RH+27,'a',{anchor:'middle'});
 txt(x(1.0),y0+RH+27,'Activated',{anchor:'end'});
 txt(x0-22.7,y0+1,'Recovered',{anchor:'end',rot:-90});
 txt(x0-22.7,y(0.5),'r',{anchor:'middle',rot:-90});
 txt(x0-22.7,y0+RH-1.5,'Inactivated',{anchor:'start',rot:-90});
 txt(x0+RW-8,y0+9.5,cfg.name,{anchor:'end',bold:true});
}

// ---- build panels ----
// A
leftPanel({x0:colX[0],y0:rowY[0],tDom:[-260,5460],vDom:[-127,46],iDom:[-3.32,0.4],tTicks:A_tTicks,vTicks:A_vTicks,iTicks:A_iTicks,name:'Pr2',ylabOff:27.5,
 vTraces:A_p1Dur.map((d,i)=>({c:jet(A_color[i]),pts:stepPts([[0,-80],[320,-120],[390,-80],[560,40],[560+d,-120],[3060+d,-80]],5200)})),
 iTraces:A_iTraces.map((p,i)=>({c:jet(A_color[i]),pts:p})),
 pLabels:[['P1',48.3,9.3],['P2',55.7,45]]});
rightPanel({x0:colXR[0],y0:rowY[0],name:'Pr2',arrows:true,paths:A_phase.map((p,i)=>({c:jet(A_color[i]),pts:p}))});
// B
leftPanel({x0:colX[1],y0:rowY[0],tDom:[-417,8767],vDom:[-129,69],iDom:[-4.05,1.9],tTicks:B_tTicks,vTicks:B_vTicks,iTicks:B_iTicks,name:'Pr3',ylabOff:39,
 vTraces:B_p1Level.map((L,i)=>({c:jet(B_color[i]),pts:stepPts([[0,-80],[290,-120],[440,-80],[620,L],[5650,-40],[6680,-120],[7150,-80]],8300)})),
 iTraces:B_iTraces.map((p,i)=>({c:jet(B_color[i]),pts:p})),
 pLabels:[['P2',94.2,23.3],['P1',47.5,45]]});
rightPanel({x0:colXR[1],y0:rowY[0],name:'Pr3',arrows:true,paths:B_phase.map((p,i)=>({c:jet(B_color[i]),pts:p}))});
// C
const C_col=C_p3Level.map((_,i)=>i/15);
const C_paths=C_p3Level.map((_,i)=>{
 let tail;
 if(i<5) tail=C_blueTail[i];
 else if(i<15){const ab=C_fanBottom[i-5];tail=[[ab,0.009]].concat(C_fanShape.map(q=>[ab+q[0],q[1]]),[[0,0.886]]);}
 else tail=C_darkTail;
 return {c:jet(C_col[i]),pts:C_inact.concat(tail)};
});
leftPanel({x0:colX[0],y0:rowY[1],tDom:[-151,3125],vDom:[-128,59],iDom:[-2.61,6.45],tTicks:C_tTicks,vTicks:C_vTicks,iTicks:C_iTicks,name:'Pr4',ylabOff:27.5,
 vTraces:C_p3Level.map((L,i)=>({c:jet(C_col[i]),pts:stepPts([[0,-80],[290,-120],[345,-80],[560,50],[1150,-90],[1250,L],[1360,-120],[1890,-80]],2950)})),
 iTraces:C_p3Level.map((L,i)=>({c:jet(C_col[i]),pts:[[0,0],[290,0],[300,-0.02],[345,0],[560,0],[600,0.05],[800,0.15],[1150,0.18],[1152,0.05],[1249,0.02],[1251,C_iP3Peak[i]],[1265,C_iP3End[i]],[1359,C_iP3End[i]],[1361,C_iTailPeak[i]],[1400,C_iTail2[i]],[1500,-0.2],[1700,-0.05],[1890,-0.02],[1900,0],[2950,0]]})),
 pLabels:[['P1',37.3,13.4],['P3',59,13.4],['P2',41.7,44.4]]});
rightPanel({x0:colXR[0],y0:rowY[1],name:'Pr4',arrows:true,paths:C_paths});
// D
leftPanel({x0:colX[1],y0:rowY[1],tDom:[-500,10550],vDom:[-128,59],iDom:[-4.08,2.05],tTicks:D_tTicks,vTicks:D_vTicks,iTicks:D_iTicks,name:'Pr5',ylabOff:39,nudge:true,
 vTraces:D_p2Level.map((L,i)=>({c:jet(D_color[i]),pts:stepPts([[0,-80],[260,-120],[450,-80],[650,50],[2560,L],[8440,-120],[8930,-80]],10100)})),
 iTraces:D_p2Level.map((L,i)=>({c:jet(D_color[i]),pts:[[0,0],[650,0],[700,0.05],[1000,0.18],[2560,0.2]].concat(D_iP2[i],[[8441,D_iTailPeak[i]],[8520,D_iTail2[i]],[8700,-0.05],[8930,0],[10100,0]])})),
 pLabels:[['P1',19.2,13.4],['P2',65.8,23.4]]});
rightPanel({x0:colXR[1],y0:rowY[1],name:'Pr5',arrows:true,paths:D_levelPaths.map((p,i)=>({c:jet(D_color[i]),pts:D_inact.concat(p)}))});
// E
leftPanel({x0:colX[0],y0:rowY[2],tDom:[-419,8799],vDom:[-128,56],iDom:[-2.27,3.67],tTicks:E_tTicks,vTicks:E_vTicks,iTicks:E_iTicks,name:'Pr6',ylabOff:27.5,
 timeColor:t=>jet(0.05+0.85*t/8380),vPts:E_vPts,iPts:E_iPts});
const E_paths=E_loopL.map((L,i)=>{const R=E_loopR[i],b=E_loopBot[i];return {c:jet(E_loopCol[i]),closed:true,pts:[[L+0.002,b+0.06],[L,0.3],[L,0.55],[L+0.01,0.598],[R-0.01,0.598],[R,0.55],[R+0.003,0.3],[R,b+0.03],[R-0.015,b],[L+0.015,b]]};});
E_paths.push({c:jet(0.9),pts:E_red});
rightPanel({x0:colXR[0],y0:rowY[2],name:'Pr6',arrows:false,paths:E_paths});
// F
leftPanel({x0:colX[1],y0:rowY[2],tDom:[-400,8400],vDom:[-129,69],iDom:[-3.32,1.47],tTicks:F_tTicks,vTicks:F_vTicks,iTicks:F_iTicks,name:'Pr7',ylabOff:39,
 timeColor:t=>jet(0.08+0.84*t/8050),vPts:F_vPts,iPts:F_iPts});
rightPanel({x0:colXR[1],y0:rowY[2],name:'Pr7',arrows:false,paths:F_phase.map(p=>({c:jet(p.c),pts:p.p}))});
// panel letters
[['A',3,9.5],['B',380.5,9.5],['C',3,215.7],['D',380.5,215.7],['E',3,419],['F',380.5,419]].forEach(l=>txt(l[1],l[2],l[0],{bold:true,size:11}));
</script></body></html>
